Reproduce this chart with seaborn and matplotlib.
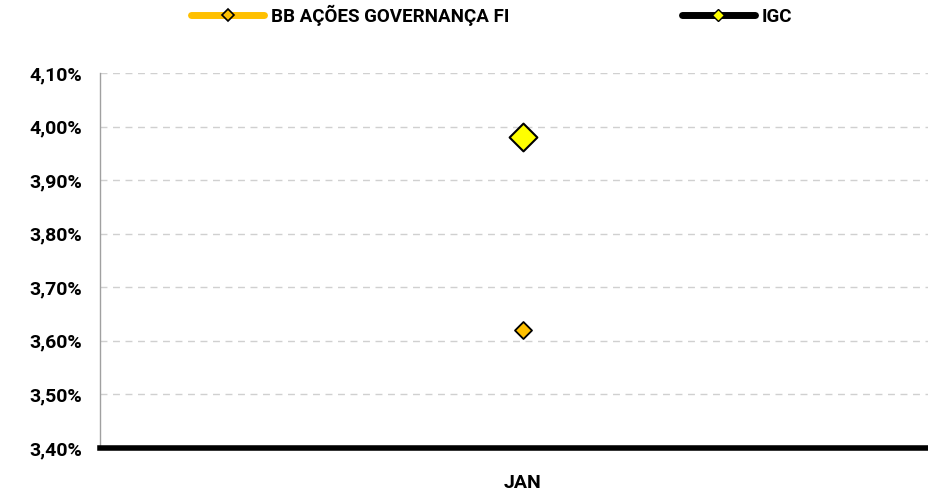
import matplotlib
matplotlib.use("Agg")
import matplotlib.pyplot as plt
from matplotlib.lines import Line2D
from matplotlib.ticker import FuncFormatter
import pandas as pd
import seaborn as sns

# Data (monthly return, %)
months = ["JAN"]
fund_name = "BB AÇÕES GOVERNANÇA FI"
bench_name = "IGC"
fund_values = [3.62]
bench_values = [3.98]
y_ticks = [3.40, 3.50, 3.60, 3.70, 3.80, 3.90, 4.00, 4.10]

df = pd.DataFrame({"month": months, "fund": fund_values, "bench": bench_values})

sns.set_style("white")
plt.rcParams["font.family"] = ["Roboto", "DejaVu Sans"]
plt.rcParams["font.weight"] = "bold"
plt.rcParams["text.color"] = "black"
plt.rcParams["xtick.color"] = "black"
plt.rcParams["ytick.color"] = "black"

fig = plt.figure(figsize=(9.29, 4.93), dpi=100)
# plot area spans past the right edge, as in the original
ax = fig.add_axes([100 / 929, 45 / 493, 846 / 929, 375 / 493])

fund_color = "#FFC000"
bench_color = "#FFFF00"

sns.scatterplot(data=df, x="month", y="fund", marker="D", s=75, color=fund_color,
                edgecolor="black", linewidth=1.3, ax=ax, zorder=4, legend=False)
sns.scatterplot(data=df, x="month", y="bench", marker="D", s=200, color=bench_color,
                edgecolor="black", linewidth=1.5, ax=ax, zorder=4, legend=False)

ax.set_xlim(-0.5, 0.5)
ax.set_ylim(3.40, 4.10)
ax.set_yticks(y_ticks)
ax.yaxis.set_major_formatter(FuncFormatter(lambda v, p: f"{v:.2f}%".replace(".", ",")))
ax.yaxis.grid(True, color="#D0D0D0", linestyle=(0, (5, 4)), linewidth=1)
ax.set_axisbelow(True)

for s in ["top", "right"]:
    ax.spines[s].set_visible(False)
ax.spines["left"].set_color("#A0A0A0")
ax.spines["left"].set_linewidth(1)
ax.spines["bottom"].set_color("black")
ax.spines["bottom"].set_linewidth(4)
ax.spines["bottom"].set_zorder(5)

ax.tick_params(axis="y", length=5, color="#A0A0A0", labelcolor="black", labelsize=14, pad=8)
ax.tick_params(axis="x", length=0, labelcolor="black", labelsize=14, pad=19)
for lab in ax.get_yticklabels() + ax.get_xticklabels():
    lab.set_fontweight("bold")
ax.set_xlabel("")
ax.set_ylabel("")

handles = [
    Line2D([], [], color=fund_color, linewidth=5, marker="D", markersize=6,
           markerfacecolor=fund_color, markeredgecolor="black", markeredgewidth=1.2),
    Line2D([], [], color="black", linewidth=5, marker="D", markersize=6,
           markerfacecolor=bench_color, markeredgecolor="black", markeredgewidth=1),
]
fig.legend(handles, [fund_name, bench_name], loc="upper center",
           bbox_to_anchor=(0.529, 1.025), ncol=2, frameon=False,
           handlelength=3.9, handletextpad=0.35, columnspacing=9.2,
           prop={"size": 13.5, "weight": "bold"})

fig.savefig("out.png", dpi=100)
